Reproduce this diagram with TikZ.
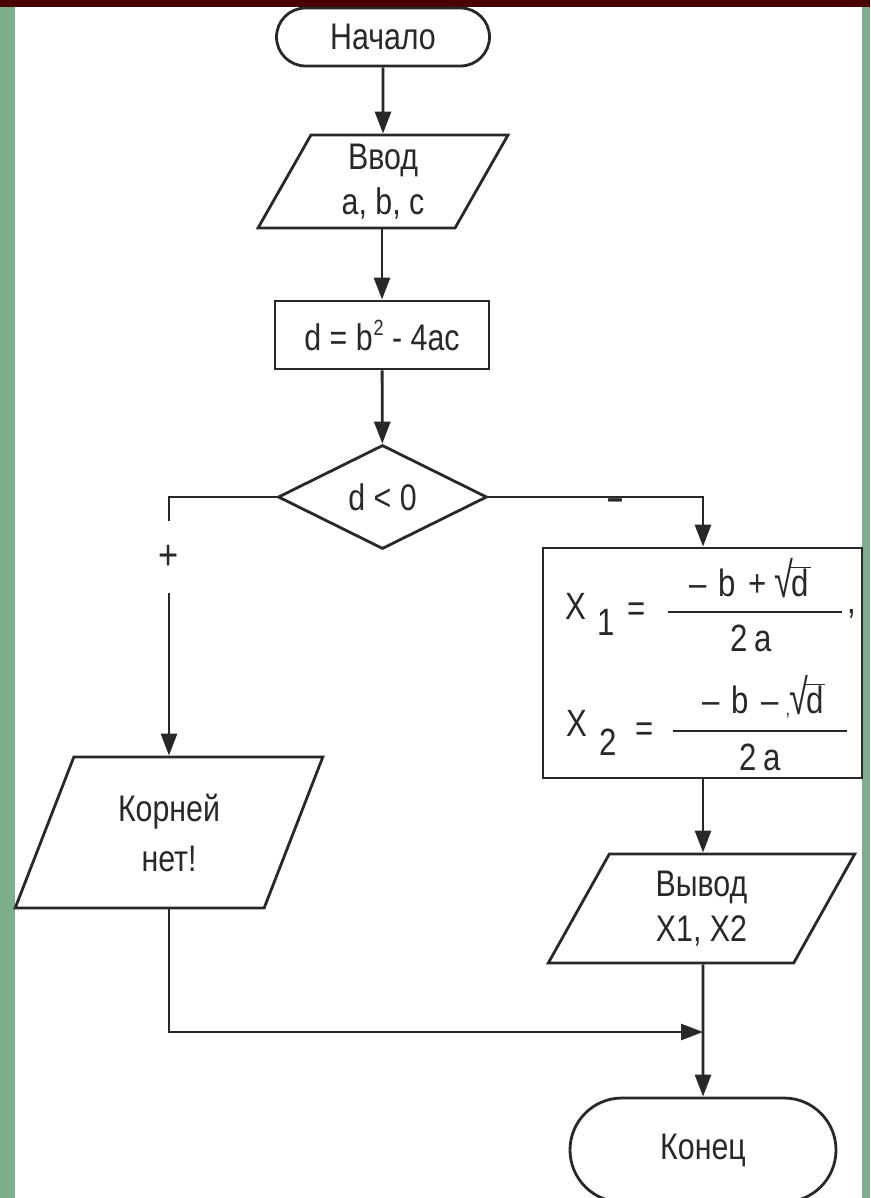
\documentclass[tikz,border=0pt]{standalone}
\usepackage{fontspec}
\usepackage{graphicx}
\setmainfont{Liberation Sans}[FakeStretch=0.82]
\usetikzlibrary{shapes.geometric,shapes.misc,arrows.meta}
\definecolor{ramka}{RGB}{74,0,0}
\definecolor{poloska}{RGB}{124,174,140}
\definecolor{liniya}{RGB}{40,40,40}
\tikzset{
  linia/.style={line width=2.8pt, draw=liniya},
  terminal/.style={linia, rounded rectangle, inner sep=0pt},
  parall/.style={linia, trapezium, trapezium stretches=true,
    trapezium left angle=68, trapezium right angle=112, inner sep=0pt, align=center},
  blok/.style={linia, rectangle, inner sep=0pt},
  uslovie/.style={linia, diamond, inner sep=0pt},
  znak/.style={inner sep=0pt},
}
\newcommand{\koren}{\raisebox{-1pt}{\scalebox{1.1}[1.3]{√}}\kern-3pt$\overline{\mbox{\kern1pt d\kern2pt}}$}

\begin{document}
\begin{tikzpicture}[x=1pt, y=-1pt, font=\fontsize{37}{45}\selectfont, text=liniya,
    >={Triangle[length=22pt,width=16pt]}]
  \useasboundingbox (0,0) rectangle (870,1198);
  \clip (0,0) rectangle (870,1198);
  % fon
  \fill[ramka] (0,0) rectangle (870,7);
  \fill[poloska] (0,7) rectangle (15,1198);
  \fill[poloska] (862,7) rectangle (870,1198);

  % bloki
  \node[terminal, minimum width=213, minimum height=58] (nachalo) at (383,37) {Начало};
  \node[parall, minimum width=250, minimum height=93] (vvod) at (383,181.5) {Ввод\\a, b, c};
  \node[blok, minimum width=214, minimum height=68] (diskr) at (382,335) {d = b\kern1pt\raisebox{15pt}{\fontsize{22}{22}\selectfont 2}\ - 4ac};
  \node[uslovie, minimum width=209, minimum height=104] (usl) at (382.5,497) {d < 0};
  \node[znak, minimum height=71, font=\fontsize{42}{42}\selectfont] (plus) at (169,557) {+};
  \node[parall, minimum width=308, minimum height=151, font=\fontsize{37}{50}\selectfont] (netkor) at (169,832.5) {Корней\\нет!};
  \node[blok, minimum width=319, minimum height=230] (korni) at (702.5,663) {};
  \node[parall, minimum width=307, minimum height=109] (vyvod) at (701.5,908.5) {Вывод\\X1, X2};
  \node[terminal, minimum width=266, minimum height=104] (konec) at (703,1150) {Конец};
  \coordinate (sliyanie) at (703,1032);

  % formuly
  \begin{scope}[font=\fontsize{38}{38}\selectfont]
    \node[znak] (x1) at (576,606) {X};
    \node[znak] (i1) at (606,622) {1};
    \node[znak] (r1) at (637,612) {=};
    \node[znak, anchor=base] (ch1) at (750,596) {–\hspace{12pt}b\hspace{12pt}+\hspace{8pt}\koren};
    \node[znak] (zn1) at (751,638) {2\,a};
    \node[znak] (zap) at (852,614) {,};
    \node[znak] (x2) at (577,723) {X};
    \node[znak] (i2) at (608,742) {2};
    \node[znak] (r2) at (645,732) {=};
    \node[znak, anchor=base] (ch2) at (764,713) {–\hspace{12pt}b\hspace{12pt}–\hspace{7pt}\raisebox{-2pt}{\fontsize{20}{20}\selectfont ,}\kern-1pt\koren};
    \node[znak] (zn2) at (760,757) {2\,a};
  \end{scope}
  \draw[linia] (668,612) -- (842,612);
  \draw[linia] (673,731) -- (847,731);

  % strelki
  \draw[linia, ->] (nachalo) -- (nachalo |- vvod.north);
  \draw[linia, ->] (diskr |- vvod.south) -- (diskr);
  \draw[linia, ->] (diskr) -- (usl);
  \draw[linia] (usl) -| (plus);
  \draw[linia, ->] (plus) -- (plus |- netkor.north);
  \draw[linia, ->] (usl) -| (sliyanie |- korni.north);
  \node[znak, font=\fontsize{34}{34}\selectfont\bfseries] (minus) at (615,504) {–};
  \draw[linia, ->] (sliyanie |- korni.south) -- (sliyanie |- vyvod.north);
  \draw[linia, ->] (netkor) |- (sliyanie);
  \draw[linia, ->] (sliyanie |- vyvod.south) -- (konec);
\end{tikzpicture}
\end{document}
